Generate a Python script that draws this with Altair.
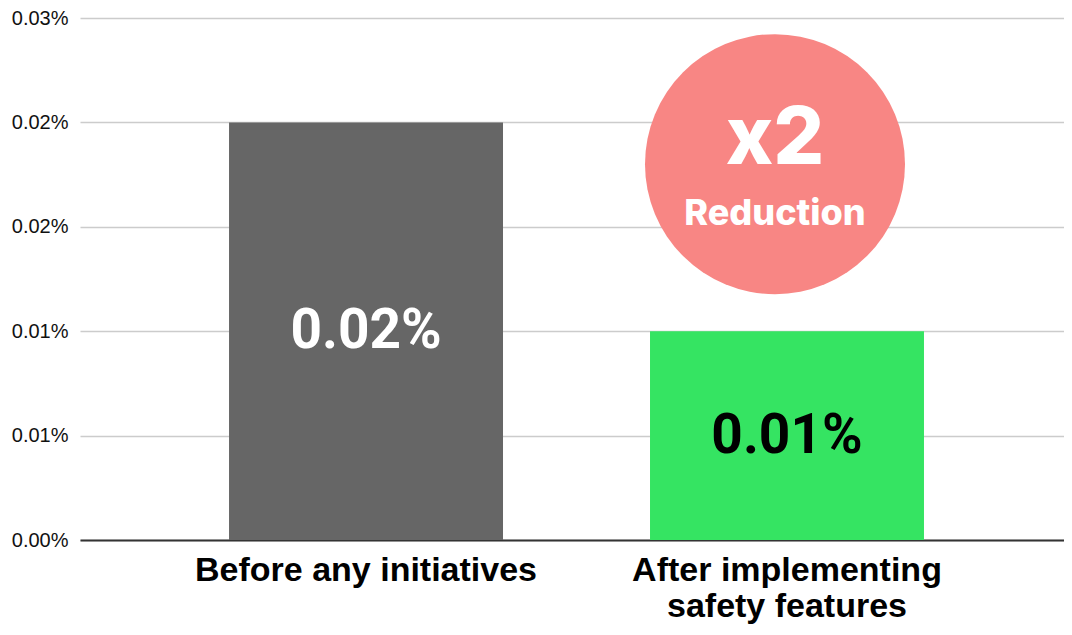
import altair as alt
import pandas as pd

CATEGORIES = ["Before any initiatives", "After implementing\nsafety features"]
VALUES = [0.02, 0.01]
VALUE_LABELS = ["0.02%", "0.01%"]
BAR_COLORS = ["#666666", "#35E462"]
LABEL_COLORS = ["#ffffff", "#000000"]
TICK_VALUES = [0, 0.005, 0.01, 0.015, 0.02, 0.025]
TICK_LABELS = ["0.00%", "0.01%", "0.01%", "0.02%", "0.02%", "0.03%"]
BADGE_CATEGORY = [CATEGORIES[1]]
BADGE_Y = [0.0180]
BADGE_TITLE = ["x2"]
BADGE_SUB = ["Reduction"]
BADGE_COLOR = "#F88684"

bars_df = pd.DataFrame({
    "category": CATEGORIES,
    "value": VALUES,
    "label": VALUE_LABELS,
    "color": BAR_COLORS,
    "lcolor": LABEL_COLORS,
})
badge_df = pd.DataFrame({
    "category": BADGE_CATEGORY,
    "y": BADGE_Y,
    "title": BADGE_TITLE,
    "sub": BADGE_SUB,
})

expr = "''"
for v, l in reversed(list(zip(TICK_VALUES, TICK_LABELS))):
    expr = f"abs(datum.value - {v}) < 1e-9 ? '{l}' : ({expr})"

xscale = alt.Scale(domain=CATEGORIES, paddingInner=0.3492, paddingOuter=0.3433, align=0.5156)
yscale = alt.Scale(domain=[0, 0.025], nice=False)

x = alt.X("category:N", scale=xscale, sort=CATEGORIES,
          axis=alt.Axis(title=None, labelAngle=0, ticks=False, grid=False,
                        domain=True, domainColor="#333333", domainWidth=2,
                        labelFont="Liberation Sans", labelFontWeight="bold",
                        labelFontSize=34, labelColor="#000000", labelPadding=13,
                        labelLineHeight=36, labelLimit=0, labelBaseline="top",
                        labelExpr="split(datum.label, '\\n')"))
y = alt.Y("value:Q", scale=yscale,
          axis=alt.Axis(title=None, values=TICK_VALUES, labelExpr=expr,
                        domain=False, ticks=False, grid=True,
                        gridColor="#cccccc", gridWidth=1.5,
                        labelFont="Liberation Sans", labelFontSize=20,
                        labelColor="#111111", labelPadding=12))

base = alt.Chart(bars_df)
bars = base.mark_bar().encode(x=x, y=y, color=alt.Color("color:N", scale=None))
texts = base.transform_calculate(mid="datum.value / 2").mark_text(
    font="Roboto", fontWeight="bold", fontSize=55, baseline="middle", align="center"
).encode(
    x=alt.X("category:N", scale=xscale, sort=CATEGORIES),
    y=alt.Y("mid:Q", scale=yscale),
    text="label:N",
    color=alt.Color("lcolor:N", scale=None),
)

bbase = alt.Chart(badge_df)
circle = bbase.mark_point(shape="circle", filled=True, opacity=1, size=67600,
                          color=BADGE_COLOR, strokeWidth=0, xOffset=-12).encode(
    x=alt.X("category:N", scale=xscale, sort=CATEGORIES),
    y=alt.Y("y:Q", scale=yscale),
)
title = bbase.mark_text(font="Inter", fontWeight=800, fontSize=80, color="#ffffff",
                        baseline="middle", align="center", dx=-12, dy=-24).encode(
    x=alt.X("category:N", scale=xscale, sort=CATEGORIES),
    y=alt.Y("y:Q", scale=yscale),
    text="title:N",
)
sub = bbase.mark_text(font="Inter", fontWeight=800, fontSize=36, color="#ffffff",
                      baseline="middle", align="center", dx=-12, dy=50).encode(
    x=alt.X("category:N", scale=xscale, sort=CATEGORIES),
    y=alt.Y("y:Q", scale=yscale),
    text="sub:N",
)

chart = alt.layer(bars, texts, circle, title, sub).properties(
    width=984, height=522,
    padding={"left": 72, "top": 10, "right": 0, "bottom": 87},
    autosize=alt.AutoSizeParams(type="none"),
).configure_view(stroke=None)

chart.save("out.html", embed_options={"renderer": "svg", "actions": False})
